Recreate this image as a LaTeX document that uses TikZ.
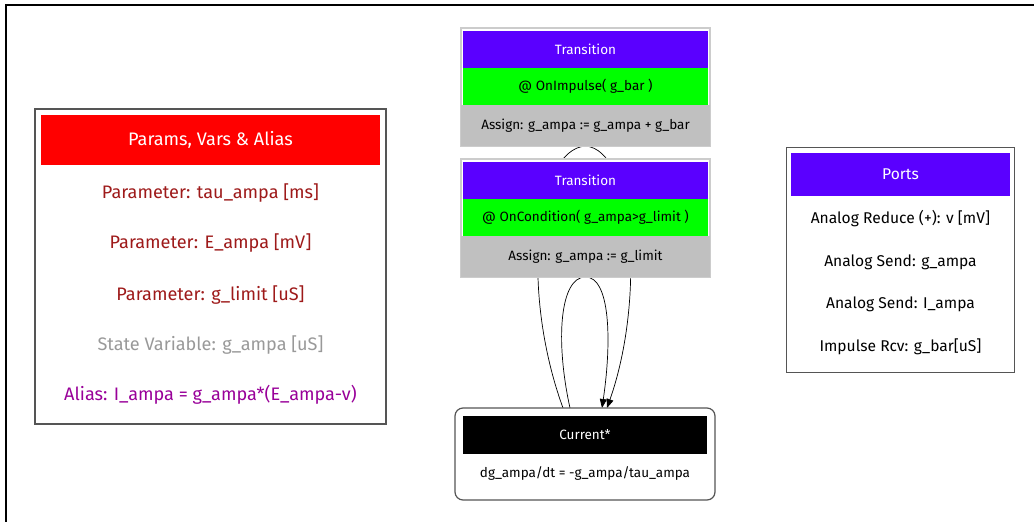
\documentclass[tikz,border=0pt]{standalone}
\usepackage{fontspec}
\setmainfont{Fira Sans}
\usetikzlibrary{arrows.meta,calc,backgrounds}
\definecolor{hdrpurple}{HTML}{5A00FF}
\definecolor{hdrgreen}{HTML}{00FF00}
\definecolor{bandgray}{HTML}{C0C0C0}
\definecolor{lightborder}{HTML}{CCCCCC}
\definecolor{darkborder}{HTML}{555555}
\definecolor{paramred}{HTML}{9E1A1A}
\definecolor{aliaspurple}{HTML}{990099}
\definecolor{statgray}{HTML}{999999}
\begin{document}
\begin{tikzpicture}[x=1pt,y=-1pt,
  every node/.style={inner sep=0pt, outer sep=0pt},
  bigtext/.style={font=\fontsize{18.1}{20}\selectfont},
  midtext/.style={font=\fontsize{15.6}{18}\selectfont},
  smalltext/.style={font=\fontsize{13.5}{15}\selectfont},
  panel/.style={draw=darkborder, line width=1.2pt, fill=white},
  transbox/.style={draw=lightborder, line width=1.5pt, fill=white, minimum width=249, minimum height=118},
  band/.style={minimum width=245, minimum height=37, smalltext},
  edge/.style={draw=black, line width=0.7pt},
  arrowedge/.style={edge, -{Triangle[length=9pt,width=7pt]}}
]
\useasboundingbox (0,0) rectangle (1034,522);
\draw[line width=2pt] (6,530) -- (6,5) -- (1040,5);

% Params panel
\node[panel, minimum width=351, minimum height=315] (params) at (210.5,266.5) {};
\node[fill=red, text=white, minimum width=339, minimum height=50, bigtext] (phead) at (210.5,140) {Params, Vars \& Alias};
\node[text=paramred, bigtext] (p1) at (210.5,193) {Parameter: tau\_ampa [ms]};
\node[text=paramred, bigtext] (p2) at (210.5,243) {Parameter: E\_ampa [mV]};
\node[text=paramred, bigtext] (p3) at (210.5,295) {Parameter: g\_limit [uS]};
\node[text=statgray, bigtext] (p4) at (210.5,345) {State Variable: g\_ampa [uS]};
\node[text=aliaspurple, bigtext] (p5) at (210.5,395) {Alias: I\_ampa = g\_ampa*(E\_ampa-v)};

% Transition 1
\node[transbox] (t1) at (585.5,87) {};
\node[band, fill=hdrpurple, text=white] (t1a) at (585.5,49.5) {Transition};
\node[band, fill=hdrgreen] (t1b) at (585.5,86.5) {@ OnImpulse( g\_bar )};
\node[band, fill=bandgray, minimum width=249, minimum height=41] (t1c) at (585.5,125.5) {Assign: g\_ampa := g\_ampa + g\_bar};

% Transition 2
\node[transbox] (t2) at (585.5,218) {};
\node[band, fill=hdrpurple, text=white] (t2a) at (585.5,180.5) {Transition};
\node[band, fill=hdrgreen] (t2b) at (585.5,217.5) {@ OnCondition( g\_ampa>g\_limit )};
\node[band, fill=bandgray, minimum width=249, minimum height=41] (t2c) at (585.5,256.5) {Assign: g\_ampa := g\_limit};

% Current regime
\node[draw=darkborder, line width=1.2pt, fill=white, rounded corners=8pt, minimum width=260, minimum height=92] (cur) at (585,454) {};
\node[fill=black, text=white, minimum width=244, minimum height=38, smalltext] (curh) at (585,435) {Current*};
\node[smalltext] (cureq) at (585,473) {dg\_ampa/dt = -g\_ampa/tau\_ampa};

% Ports panel
\node[panel, line width=1pt, minimum width=228, minimum height=225] (ports) at (900,259.5) {};
\node[fill=hdrpurple, text=white, minimum width=219, minimum height=43, midtext] (porth) at (900.5,174.5) {Ports};
\node[midtext] (q1) at (900.5,219) {Analog Reduce (+): v [mV]};
\node[midtext] (q2) at (900.5,262) {Analog Send: g\_ampa};
\node[midtext] (q3) at (900.5,304) {Analog Send: I\_ampa};
\node[midtext] (q4) at (900.5,347) {Impulse Rcv: g\_bar[uS]};

% Connectors
\begin{scope}[on background layer]
\draw[edge] ($(cur.north west)+(108,0)$) .. controls (520,290) and (535,150) .. (t1.south);
\draw[arrowedge] (t1.south) .. controls (635,150) and (645,300) .. ($(cur.north west)+(152,0)$);
\draw[edge] ($(cur.north west)+(115,0)$) .. controls (555,340) and (560,277) .. (t2.south);
\draw[arrowedge] (t2.south) .. controls (610,277) and (612,340) .. ($(cur.north west)+(147,0)$);
\end{scope}
\end{tikzpicture}
\end{document}
